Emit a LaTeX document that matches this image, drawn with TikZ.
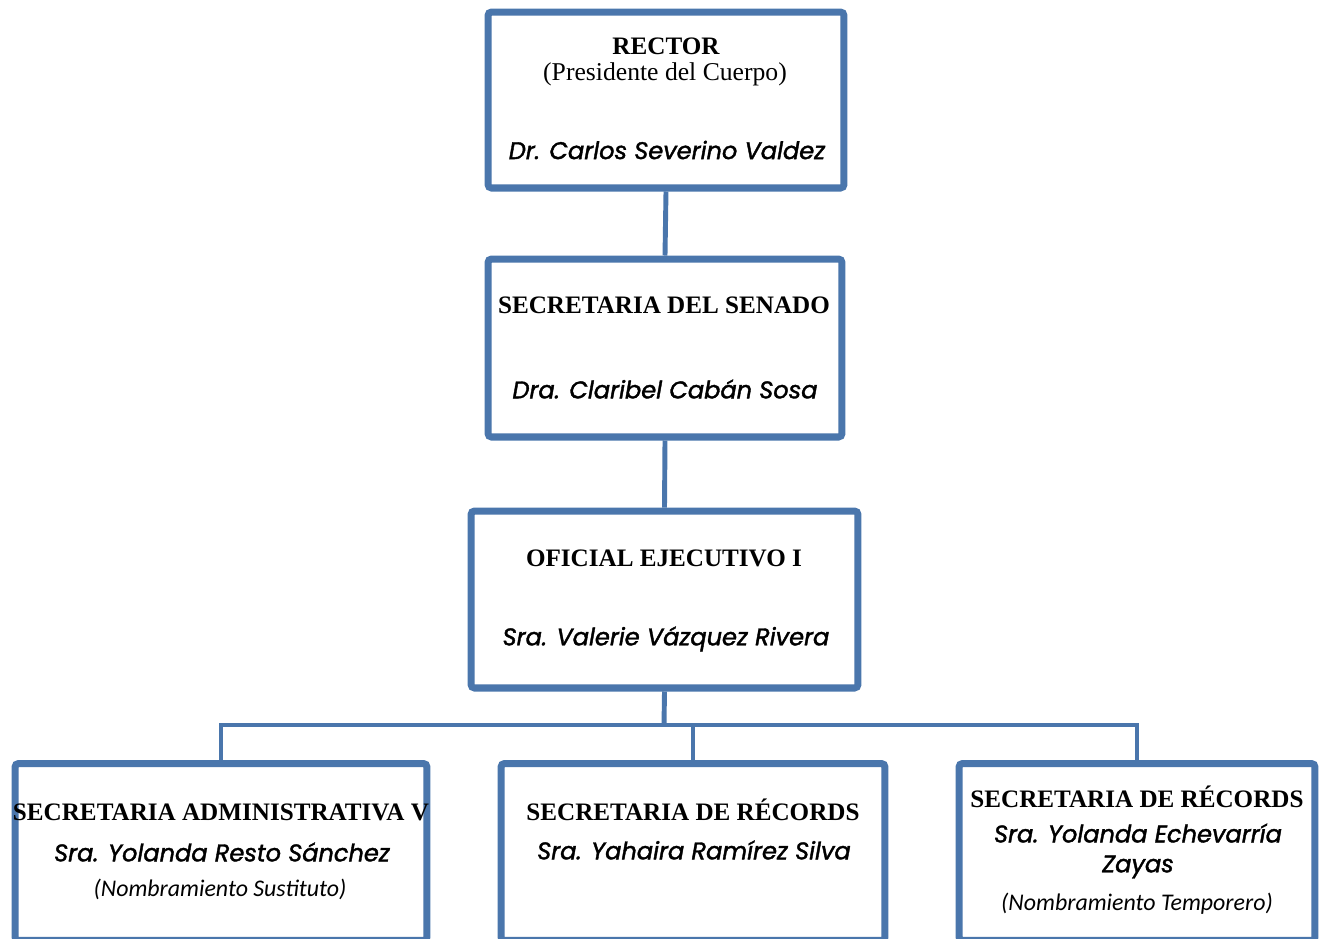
\documentclass[tikz,border=0pt]{standalone}
\usepackage{fontspec}
\usetikzlibrary{shadows}
\newfontfamily\boxtitlefont{Liberation Serif}
\newfontfamily\namefont[FakeBold=1.6]{Poppins}
\newfontfamily\notefont{Carlito}
\definecolor{orgblue}{RGB}{74,118,172}

\tikzset{
  orgbox/.style={draw=orgblue, line width=4pt, rounded corners=2pt, fill=white,
    drop shadow={opacity=0.3, shadow xshift=1pt, shadow yshift=-1.5pt}, inner sep=0pt},
  orgline/.style={draw=orgblue, line width=2.8pt},
  ttl/.style={inner sep=0pt, font=\boxtitlefont\bfseries\fontsize{14.3}{16}\selectfont},
  sub/.style={inner sep=0pt, font=\boxtitlefont\fontsize{14.6}{16}\selectfont},
  nm/.style={inner sep=0pt, align=center, font=\namefont\itshape\fontsize{13.7}{17}\selectfont},
  nt/.style={inner sep=0pt, font=\notefont\itshape\fontsize{13.6}{15}\selectfont},
}

\begin{document}
\begin{tikzpicture}[x=0.02cm, y=-0.02cm]
		%%%%% START %%%%%
		\useasboundingbox (0,0) rectangle (1322,938);
		\clip (0,0) rectangle (1322,938);
		
		% boxes
		\node[orgbox, minimum width=7.12cm, minimum height=3.52cm] (rector) at (666,100) {};
		\node[orgbox, minimum width=7.08cm, minimum height=3.56cm] (senado) at (665,348) {};
		\node[orgbox, minimum width=7.74cm, minimum height=3.54cm] (oficial) at (664.5,599.5) {};
		\node[orgbox, minimum width=8.24cm, minimum height=3.54cm] (admin) at (221,852) {};
		\node[orgbox, minimum width=7.68cm, minimum height=3.54cm] (recA) at (693,852) {};
		\node[orgbox, minimum width=7.12cm, minimum height=3.54cm] (recB) at (1137,852) {};
		
		% connectors
		\coordinate (bus) at (664,725);
		\draw[orgline] (rector.south) -- (senado.north);
		\draw[orgline] (senado.south) -- (oficial.north);
		\draw[orgline] (oficial.south) -- (bus);
		\draw[orgline] (bus) -| (admin.north);
		\draw[orgline] (bus) -| (recA.north);
		\draw[orgline] (bus) -| (recB.north);
		
		% texts
		\node[ttl] (rector-t) at (666,46) {RECTOR};
		\node[sub] (rector-s) at (665,74) {(Presidente del Cuerpo)};
		\node[nm] (rector-n) at (667,150) {Dr. Carlos Severino Valdez};
		
		\node[ttl] (senado-t) at (664,305) {SECRETARIA DEL SENADO};
		\node[nm] (senado-n) at (665,389) {Dra. Claribel Cabán Sosa};
		
		\node[ttl] (oficial-t) at (664,558) {OFICIAL EJECUTIVO I};
		\node[nm] (oficial-n) at (666,639) {Sra. Valerie Vázquez Rivera};
		
		\node[ttl] (admin-t) at (221,812) {SECRETARIA ADMINISTRATIVA V};
		\node[nm] (admin-n) at (222,852) {Sra. Yolanda Resto Sánchez};
		\node[nt] (admin-x) at (220,889) {(Nombramiento Sustituto)};
		
		\node[ttl] (recA-t) at (693,810) {SECRETARIA DE RÉCORDS};
		\node[nm] (recA-n) at (694,850) {Sra. Yahaira Ramírez Silva};
		
		\node[ttl] (recB-t) at (1137,797) {SECRETARIA DE RÉCORDS};
		\node[nm] (recB-n) at (1138,851) {Sra. Yolanda Echevarría\\Zayas};
		\node[nt] (recB-x) at (1137,904) {(Nombramiento Temporero)};
		
		%%%%% END %%%%%
\end{tikzpicture}
\end{document}
